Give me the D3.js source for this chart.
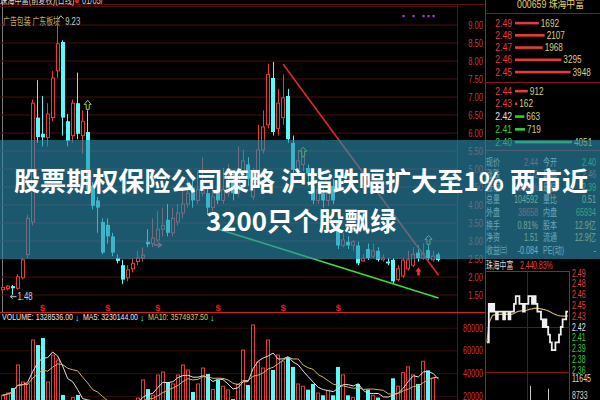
<!DOCTYPE html>
<html><head><meta charset="utf-8">
<script src="https://cdn.jsdelivr.net/npm/d3@7/dist/d3.min.js"></script>
<style>html,body{margin:0;padding:0;background:#000;overflow:hidden}svg{display:block}</style>
</head><body>
<svg id="c" width="600" height="400"></svg>
<script>
// ---------------- data ----------------
const opens  = [1.62,1.65,1.72,1.66,1.95,2.60,3.50,6.40,5.95,5.85, 6.40,7.70,8.50,6.30,5.90,6.80,5.90,6.00,4.50,4.10,
                3.50,3.42,3.10,2.50,2.30,1.95,2.20,2.40,2.50,2.95, 2.90,3.00,3.30,3.56,3.20,3.50,3.75,4.00,4.45,4.10,
                4.30,4.30,3.90,4.40,4.10,4.30,4.60,4.30,4.90,5.10, 4.20,4.60,5.50,6.20,7.50,6.10,6.40,7.00,5.70,4.95,
                5.10,5.00,4.50,4.10,4.30,4.10,4.50,3.50,2.85,2.95, 2.85,2.85,2.42,2.75,2.55,2.70,2.45,2.40,2.45,1.90,
                2.00,2.20,2.30,2.65,2.50,2.72,2.45,2.60];
const highs  = [1.72,1.75,1.75,2.05,2.50,3.70,6.90,7.44,7.00,6.80, 7.70,9.23,8.55,6.50,6.90,7.65,6.60,6.60,4.60,4.20,
                3.60,3.60,3.20,2.60,2.45,2.30,2.50,2.70,2.80,3.30, 3.60,3.80,3.90,4.00,3.90,4.00,4.50,4.70,4.80,4.90,
                5.30,4.50,4.60,4.80,5.00,5.10,4.90,5.60,5.50,5.30, 5.00,6.20,6.60,7.90,7.95,7.20,7.60,7.20,5.90,5.50,
                5.30,5.10,4.70,4.60,4.50,4.60,4.70,3.70,3.20,3.10, 3.00,2.95,2.60,2.90,2.90,2.80,2.60,2.50,2.50,2.30,
                2.50,2.70,2.80,2.85,2.90,2.85,2.70,2.65];
const lows   = [1.58,1.60,1.48,1.62,1.90,2.50,3.40,5.70,5.60,5.60, 6.30,7.50,5.90,5.60,5.70,5.80,5.40,4.30,3.85,3.20,
                2.60,2.90,2.55,2.35,1.78,1.85,2.10,2.30,2.40,2.80, 2.80,2.95,3.10,3.10,3.10,3.40,3.60,3.90,3.90,4.00,
                4.20,3.70,3.80,4.00,4.00,4.20,4.10,4.20,4.80,4.50, 4.10,4.50,5.40,6.10,5.90,5.90,6.20,5.70,4.80,4.80,
                4.90,4.50,4.00,4.00,3.90,3.95,4.00,2.75,2.80,2.75, 2.70,2.30,2.40,2.45,2.50,2.40,2.40,2.30,1.78,1.85,
                1.95,2.15,2.25,2.40,2.45,2.45,2.40,2.40];
const closes = [1.68,1.72,1.66,1.98,2.45,3.60,6.80,5.86,5.85,6.50, 7.50,8.45,6.40,5.75,6.80,5.95,6.30,4.40,3.95,3.90,
                2.65,3.10,2.65,2.42,1.90,2.17,2.35,2.50,2.58,2.88, 3.05,3.30,3.40,3.20,3.60,3.75,4.00,4.30,4.10,4.40,
                4.50,3.90,4.20,4.10,4.40,4.60,4.30,4.90,5.20,4.70, 4.60,5.50,6.14,7.60,6.00,6.80,6.95,5.80,4.95,5.20,
                5.30,4.85,4.10,4.40,4.10,4.30,4.10,2.85,3.00,2.85, 2.95,2.35,2.48,2.50,2.70,2.45,2.50,2.35,1.85,2.20,
                2.44,2.45,2.60,2.50,2.62,2.50,2.55,2.44];
const volumes = [20000,22000,26400,46700,31700,30000,68700,64300,70500,31700, 55500,51100,20300,15000,18000,20300,12000,14000,12000,10000,
                 16000,14000,12000,9000,13000,15000,12000,17600,33500,25500, 20000,37900,40500,31700,30000,37900,46700,42300,22900,30000,
                 44000,38800,25000,33500,28000,24700,16700,30000,59900,29100, 81900,49300,44000,68700,42300,55500,50000,53700,45000,30000,
                 28000,25000,30000,22000,20000,24000,20000,45000,38000,20000, 18000,30000,15000,25000,20000,18000,15000,14000,35000,28000,
                 40000,45000,38000,30000,50000,42000,35000,14000];
const priceTicks = [9.0,8.5,8.0,7.5,7.0,6.5,6.0,5.5,5.0,4.5,4.0,3.5,3.0,2.5,2.0,1.5];
const volTicks = [80000,60000,40000,20000];
const volLegend = ["VOLUME: 1328536.00","MA5: 3230144.00","MA10: 3574937.50"];
const redTrend = [{i:56,p:7.88},{i:87,p:2.02}];
const greenTrend = [{i:42,p:3.35},{i:87,p:1.39}];
const upMarkDays = [17,60,85];
const buyArrowDays = [83];
const rightArrowMarks = [{i:31,p:2.86}];
const dividendDays = [8,21,31,43,56,67];
const eventDays = [80,82,84,85,86];
const headerTitle = "珠海中富(前复权)(日线)";
const headerDate = "01/05/";
const sectorText = "广告包装 广东板块";
const maxLabel = "9.23", minLabel = "1.48";

const stockTitle = "000659 珠海中富";
const prevClose = 2.42;
const sellPrices = [2.49,2.48,2.47,2.46,2.45];
const sellVols   = [1692,2107,1968,3295,3948];
const buyPrices  = [2.44,2.43,2.42,2.41,2.40];
const buyVols    = [912,162,663,719,4051];
const statLabels1 = ["现价","涨跌","涨幅","总量","外盘","换手","净资","收益㈢"];
const statValues1 = ["2.44","0.02","0.83%","104592","38658","0.81%","1.51","-0.084"];
const statLabels2 = ["今开","最高","最低","量比","内盘","股本","流通","PE(动)"];
const statValues2 = ["2.40","2.46","2.39","0.51","65934","12.9亿","12.9亿","-"];

const intraTitle = ["珠海中富","2.44","0.83%"];
const intraPrices = [2.40,2.45,2.44,2.45,2.44,2.43,2.44,2.44,2.44,2.43,2.44,2.44,2.43,2.44,2.44,2.45,2.46,2.46,2.45,2.45,
                     2.44,2.45,2.45,2.46,2.46,2.45,2.46,2.45,2.44,2.44,2.43,2.42,2.43,2.42,2.41,2.40,2.39,2.39,2.40,2.40,
                     2.41,2.42,2.43,2.43,2.44,2.44];
const intraVols = [6800,5200,3400,2800,3100,2600,2200,2500,2100,1900,2400,2000,1800,2200,2600,3800,4500,3600,3000,2600,
                   2400,2800,3200,4200,10300,4600,3800,3200,2900,3400,4100,3800,4400,5200,9800,5600,4800,4200,3600,3300,
                   3000,3500,3900,4200,4600,5400];
const intraTicks = [2.49,2.476,2.462,2.448,2.434,2.42,2.406,2.392,2.378,2.364];
const intraVolTicks = [11645,8733];

const titleLines = ["股票期权保险公司策略 沪指跌幅扩大至1% 两市近","3200只个股飘绿"];

// ---------------- drawing ----------------
const RED='#ec3a3a', CYAN='#54fcfc', GRID='#4c0e0e', AXRED='#cc3636', GREEN='#34cc34', YEL='#dcd070', WHITE='#e4e4e4';
const UI='"Liberation Sans","Noto Sans CJK SC",sans-serif';
const svg = d3.select('#c');
svg.append('rect').attr('width',600).attr('height',400).attr('fill','#000');
const defs = svg.append('defs');
defs.append('clipPath').attr('id','mc').append('rect').attr('x',0).attr('y',0).attr('width',457).attr('height',311);
defs.append('clipPath').attr('id','vc').append('rect').attr('x',0).attr('y',313).attr('width',457).attr('height',87);
defs.append('clipPath').attr('id','ic').append('rect').attr('x',486).attr('y',272).attr('width',83).attr('height',128);

function T(g,x,yb,s,o={}){
  return g.append('text')
    .attr('transform',`translate(${x},${yb}) scale(${o.sx ?? 0.75},1)`)
    .attr('text-anchor',o.anchor||'start')
    .attr('font-size',o.size||10)
    .attr('font-family',o.family||UI)
    .attr('font-weight',o.weight||'normal')
    .attr('fill',o.fill||'#ccc')
    .text(s);
}

const days = d3.range(opens.length);
const x = d3.scaleBand().domain(days).range([0.5,440.5]).paddingInner(0.2);
const cx = i => x(i) + x.bandwidth()/2;
const y = d3.scaleLinear().domain([1.5,9]).range([294,24]);
const yv = d3.scaleLinear().domain([0,80000]).range([418,327.2]);

// header line & left border
svg.append('line').attr('x1',0).attr('x2',485).attr('y1',4.5).attr('y2',4.5).attr('stroke','#5a1010');
svg.append('line').attr('x1',2.5).attr('x2',2.5).attr('y1',0).attr('y2',312).attr('stroke','#9a9a9a').attr('stroke-width',0.8);

// price axis (right) with grid
const ax = svg.append('g').attr('transform','translate(457,0.5)')
  .call(d3.axisRight(y).tickValues(priceTicks).tickSize(-457).tickFormat(d3.format('.2f')));
ax.select('.domain').remove();
ax.selectAll('.tick line').attr('stroke',GRID);
ax.selectAll('.tick text').attr('x',0).attr('dy',0).attr('fill',AXRED).attr('font-size',10)
  .attr('font-family',UI).attr('text-anchor','end').attr('transform','translate(26,3.5) scale(0.76,1)');
svg.append('line').attr('x1',0).attr('x2',457).attr('y1',Math.round(y(9.5))+0.5).attr('y2',Math.round(y(9.5))+0.5).attr('stroke',GRID);

// volume axis
const vax = svg.append('g').attr('transform','translate(457,0.5)')
  .call(d3.axisRight(yv).tickValues(volTicks).tickSize(-457).tickFormat(d3.format('d')));
vax.select('.domain').remove();
vax.selectAll('.tick line').attr('stroke','#3a0a0a');
vax.selectAll('.tick text').attr('x',0).attr('dy',0).attr('fill',AXRED).attr('font-size',10)
  .attr('font-family',UI).attr('text-anchor','end').attr('transform','translate(26,3.5) scale(0.72,1)');
svg.append('line').attr('x1',457.5).attr('x2',457.5).attr('y1',4).attr('y2',400).attr('stroke','#5a1010');

// header texts
T(svg,0,3.5,headerTitle,{fill:'#d8d8d8',sx:0.72});
svg.append('circle').attr('cx',77).attr('cy',1.5).attr('r',2).attr('fill','#e02020');
T(svg,82,3.5,headerDate,{fill:'#d8d8d8',sx:0.75});
svg.append('text').attr('x',3).attr('y',25).attr('font-size',10).attr('font-family',UI).attr('fill','#c8a860')
  .attr('textLength',57).attr('lengthAdjust','spacingAndGlyphs').text(sectorText);

// candles
const gC = svg.append('g').attr('clip-path','url(#mc)');
days.forEach(i=>{
  const up = closes[i] >= opens[i];
  const col = up ? RED : CYAN;
  const xc = Math.floor(cx(i)) + 0.5;
  gC.append('line').attr('x1',xc).attr('x2',xc).attr('y1',y(highs[i])).attr('y2',y(lows[i])).attr('stroke',col).attr('stroke-width',1);
  const top = y(Math.max(opens[i],closes[i])), bot = y(Math.min(opens[i],closes[i]));
  const bx = Math.round(x(i));
  if (up) {
    gC.append('rect').attr('x',bx+0.5).attr('y',top).attr('width',x.bandwidth()-1).attr('height',Math.max(1,bot-top))
      .attr('fill','#000').attr('stroke',col).attr('stroke-width',1);
  } else {
    gC.append('rect').attr('x',bx).attr('y',top).attr('width',x.bandwidth()).attr('height',Math.max(1.2,bot-top)).attr('fill',col);
  }
});

// trend lines
const tl = d3.line().x(d=>cx(d.i)).y(d=>y(d.p));
gC.append('path').attr('d',tl(redTrend)).attr('stroke','#e02828').attr('stroke-width',1.6).attr('fill','none');
gC.append('path').attr('d',tl(greenTrend)).attr('stroke','#3cdc3c').attr('stroke-width',1.6).attr('fill','none');

// markers
upMarkDays.forEach(i=>{
  const a=cx(i), b=y(highs[i])-5;
  gC.append('path').attr('d',`M${a},${b-5}L${a+3.5},${b-1}L${a+1.5},${b-1}L${a+1.5},${b+4}L${a-1.5},${b+4}L${a-1.5},${b-1}L${a-3.5},${b-1}Z`)
    .attr('fill','none').attr('stroke','#a0d040').attr('stroke-width',1);
});
buyArrowDays.forEach(i=>{
  const a=cx(i), b=y(lows[i])+10;
  gC.append('path').attr('d',`M${a},${b-4}L${a+3},${b}L${a+1.2},${b}L${a+1.2},${b+4}L${a-1.2},${b+4}L${a-1.2},${b}L${a-3},${b}Z`).attr('fill','#ff3030');
});
rightArrowMarks.forEach(m=>{
  const a=cx(m.i), b=y(m.p);
  gC.append('path').attr('d',`M${a-4},${b}H${a+3}M${a},${b-2.5}L${a+3.5},${b}L${a},${b+2.5}`).attr('stroke','#ff4040').attr('stroke-width',1.4).attr('fill','none');
});
eventDays.forEach(i=>{
  svg.append('rect').attr('x',cx(i)-1).attr('y',15).attr('width',2.2).attr('height',2.2).attr('fill','#9a44d8');
});
// max / min labels
{
  const a=cx(11), b=y(highs[11]);
  svg.append('path').attr('d',`M${a+1},${b+3}L${a+3},${b}L${a+6},${b+3}`).attr('stroke','#d0d0d0').attr('fill','none');
  T(svg,a+7.5,b+9,maxLabel,{fill:'#c8c8c8',sx:0.78});
  const c=cx(2), d=y(lows[2]);
  svg.append('path').attr('d',`M${c-2},${d+2}H${c+4}M${c},${d}L${c-2},${d+2}L${c},${d+4}`).attr('stroke','#d0d0d0').attr('fill','none');
  T(svg,c+5,d+5.5,minLabel,{fill:'#d0d0d0',sx:0.78});
}

// separator + dividend marks
svg.append('line').attr('x1',0).attr('x2',485).attr('y1',312.5).attr('y2',312.5).attr('stroke','#d02020').attr('stroke-width',1.2);
dividendDays.forEach(i=>{
  svg.append('text').attr('x',cx(i)).attr('y',311).attr('text-anchor','middle').attr('font-size',9).attr('font-weight','bold')
    .attr('font-family',UI).attr('fill','#e02424').text('$');
});

// volume bars
const gV = svg.append('g').attr('clip-path','url(#vc)');
days.forEach(i=>{
  const up = closes[i] >= opens[i];
  const bx = Math.round(x(i)), top = yv(volumes[i]);
  if (up) gV.append('rect').attr('x',bx+0.5).attr('y',top).attr('width',x.bandwidth()-1).attr('height',420-top).attr('fill','none').attr('stroke',RED).attr('stroke-width',1);
  else gV.append('rect').attr('x',bx).attr('y',top).attr('width',x.bandwidth()).attr('height',420-top).attr('fill',CYAN);
});
const ma = n => days.map(i=>d3.mean(volumes.slice(Math.max(0,i-n+1),i+1)));
const vl = d3.line().x((d,i)=>cx(i)).y(d=>yv(d));
gV.append('path').attr('d',vl(ma(5))).attr('stroke','#e8e0e0').attr('fill','none').attr('stroke-width',1);
gV.append('path').attr('d',vl(ma(10))).attr('stroke','#d8b468').attr('fill','none').attr('stroke-width',1);

// volume legend
const legX=[2,83,148], legW=[71,55,60], legC=['#e8e8e8','#e8e8e8','#e0c050'];
volLegend.forEach((s,k)=>{
  svg.append('text').attr('x',legX[k]).attr('y',320).attr('font-size',9).attr('font-family',UI).attr('fill',legC[k])
    .attr('textLength',legW[k]).attr('lengthAdjust','spacingAndGlyphs').text(s);
  svg.append('text').attr('x',legX[k]+legW[k]+2).attr('y',320.5).attr('font-size',9).attr('font-family',UI).attr('fill',CYAN).text('↓');
});

// ---------------- right panel ----------------
const R = svg.append('g');
R.append('line').attr('x1',485.5).attr('x2',485.5).attr('y1',0).attr('y2',400).attr('stroke','#a02020');
[13.5,82.5,150.5].forEach(v=>R.append('line').attr('x1',485).attr('x2',600).attr('y1',v).attr('y2',v).attr('stroke','#8a1818'));
T(R,517,8,stockTitle,{fill:'#e8d060',sx:0.8,size:11});

const pcol = p => p>prevClose+1e-9 ? '#ee3c3c' : (p<prevClose-1e-9 ? '#34d034' : WHITE);
const bw = d3.scaleLinear().domain([0,d3.max(buyVols.concat(sellVols))]).range([0,57]);
const sellY = d3.scalePoint().domain(d3.range(5)).range([23,72]);
const buyY  = d3.scalePoint().domain(d3.range(5)).range([91,142]);
function bookRow(p,v,yy){
  T(R,512,yy+3.5,p.toFixed(2),{fill:pcol(p),anchor:'end',sx:0.86});
  R.append('rect').attr('x',515).attr('y',yy-1.2).attr('width',Math.max(2,bw(v))).attr('height',2.6).attr('fill',p>prevClose?'#e83a3a':'#2ed02e');
  T(R,515+Math.max(2,bw(v))+2,yy+3.5,String(v),{fill:YEL,sx:0.82});
}
sellPrices.forEach((p,k)=>bookRow(p,sellVols[k],sellY(k)));
buyPrices.forEach((p,k)=>bookRow(p,buyVols[k],buyY(k)));

const statY = d3.scalePoint().domain(d3.range(8)).range([162,250.2]);
const c1 = ['#ee3c3c','#ee3c3c','#ee3c3c',YEL,'#ee3c3c',YEL,YEL,WHITE];
const c2 = ['#34d034','#ee3c3c','#34d034',YEL,'#34d034',YEL,YEL,WHITE];
statLabels1.forEach((s,k)=>{
  const yy = statY(k)+3.5;
  T(R,486,yy,s,{fill:'#d0d0d0',sx:0.7});
  T(R,538,yy,statValues1[k],{fill:c1[k],anchor:'end',sx:0.72});
  T(R,543,yy,statLabels2[k],{fill:'#d0d0d0',sx:0.7});
  T(R,596,yy,statValues2[k],{fill:c2[k],anchor:'end',sx:0.72});
});

// intraday panel
const xi = d3.scaleLinear().domain([0,intraPrices.length-1]).range([487,568]);
const yi = d3.scaleLinear().domain([2.42,2.49]).range([327,273]);
const yiv = d3.scaleLinear().domain([0,11645]).range([446,378]);
T(R,486,269,intraTitle[0],{fill:'#d8d8d8',sx:0.68});
T(R,520,269,intraTitle[1],{fill:'#ee3c3c',sx:0.7});
T(R,533,269,intraTitle[2],{fill:'#ee3c3c',sx:0.7});
R.append('line').attr('x1',485).attr('x2',570).attr('y1',271.5).attr('y2',271.5).attr('stroke','#a02020');
R.append('line').attr('x1',569.5).attr('x2',569.5).attr('y1',271).attr('y2',400).attr('stroke','#a02020');
R.append('line').attr('x1',527.5).attr('x2',527.5).attr('y1',272).attr('y2',400).attr('stroke','#6a1212');
R.append('line').attr('x1',485).attr('x2',570).attr('y1',Math.round(yi(prevClose))+0.5).attr('y2',Math.round(yi(prevClose))+0.5).attr('stroke','#6a1212');
R.append('line').attr('x1',485).attr('x2',570).attr('y1',372.5).attr('y2',372.5).attr('stroke','#8a1818');
const gI = R.append('g').attr('clip-path','url(#ic)');
intraVols.forEach((v,k)=>gI.append('line').attr('x1',Math.round(xi(k))+0.5).attr('x2',Math.round(xi(k))+0.5)
  .attr('y1',yiv(v)).attr('y2',400).attr('stroke','#c8c8c8'));
const avg = intraPrices.map((p,k)=>d3.mean(intraPrices.slice(0,k+1)));
gI.append('path').attr('d',d3.line().x((d,k)=>xi(k)).y(d=>yi(d))(avg)).attr('stroke','#c8b060').attr('fill','none').attr('stroke-width',1.2);
gI.append('path').attr('d',d3.line().x((d,k)=>xi(k)).y(d=>yi(d)).curve(d3.curveStepAfter)(intraPrices))
  .attr('stroke','#f0f0f0').attr('fill','none').attr('stroke-width',1.8);
intraTicks.forEach(t=>{
  const lab = t.toFixed(2);
  T(R,572,yi(t)+3.5,lab,{fill:pcol(+lab),sx:0.7});
});
intraVolTicks.forEach(v=>T(R,572,yiv(v)+3.5,String(v),{fill:'#dcdcc8',sx:0.7}));

// ---------------- banner ----------------
svg.append('rect').attr('x',0).attr('y',140).attr('width',600).attr('height',119)
  .attr('fill','rgb(45,140,172)').attr('opacity',0.63);
const tw=[574,190], tb=[191,231];
titleLines.forEach((s,k)=>{
  svg.append('text').attr('x',301).attr('y',tb[k]).attr('text-anchor','middle')
    .attr('font-family','"Noto Sans CJK SC","Noto Sans",sans-serif').attr('font-weight',700).attr('font-size',26)
    .attr('fill','#ffffff').attr('textLength',tw[k]).attr('lengthAdjust','spacingAndGlyphs').text(s);
});
</script>
</body></html>
